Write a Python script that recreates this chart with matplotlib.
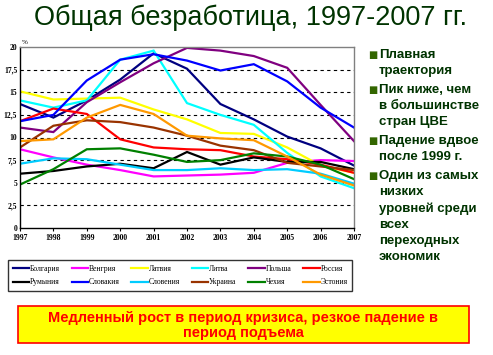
import matplotlib
matplotlib.use("Agg")
import matplotlib.pyplot as plt
from matplotlib.patches import Rectangle
from matplotlib.ticker import FixedLocator

years = [1997, 1998, 1999, 2000, 2001, 2002, 2003, 2004, 2005, 2006, 2007]

countries = ["Болгария", "Венгрия", "Латвия", "Литва", "Польша", "Россия",
             "Румыния", "Словакия", "Словения", "Украина", "Чехия", "Эстония"]

bulgaria = [13.7, 12.2, 14.1, 16.4, 19.3, 17.6, 13.7, 12.0, 10.1, 8.8, 6.9]
hungary = [8.7, 7.8, 7.0, 6.4, 5.7, 5.8, 5.9, 6.1, 7.2, 7.5, 7.4]
latvia = [15.1, 14.2, 14.3, 14.4, 13.1, 12.0, 10.5, 10.4, 8.9, 6.9, 6.1]
lithuania = [14.1, 13.3, 14.1, 18.6, 19.6, 13.8, 12.5, 11.4, 8.3, 5.7, 4.4]
poland = [11.1, 10.6, 13.9, 16.1, 18.2, 19.9, 19.6, 19.0, 17.7, 13.6, 9.6]
russia = [11.8, 13.2, 12.6, 9.8, 8.9, 8.7, 8.6, 7.9, 7.6, 7.0, 6.1]
romania = [6.0, 6.3, 6.8, 7.1, 6.6, 8.4, 7.0, 7.8, 7.3, 7.3, 6.5]
slovakia = [11.8, 12.5, 16.3, 18.6, 19.2, 18.5, 17.4, 18.1, 16.2, 13.3, 11.1]
slovenia = [7.1, 7.7, 7.6, 7.0, 6.4, 6.4, 6.6, 6.4, 6.5, 6.0, 4.9]
ukraine = [8.9, 11.3, 11.9, 11.7, 11.1, 10.2, 9.1, 8.6, 7.2, 6.8, 6.4]
czech = [4.8, 6.5, 8.7, 8.8, 8.1, 7.3, 7.5, 8.25, 7.9, 7.0, 5.4]
estonia = [9.6, 9.8, 12.2, 13.6, 12.6, 10.2, 9.9, 9.7, 7.9, 5.9, 4.7]

series = [bulgaria, hungary, latvia, lithuania, poland, russia,
          romania, slovakia, slovenia, ukraine, czech, estonia]
colors = ["#000080", "#FF00FF", "#FFFF00", "#00FFFF", "#800080", "#FF0000",
          "#000000", "#0000FF", "#00CCFF", "#993300", "#008000", "#FF9900"]

y_ticks = [0, 2.5, 5, 7.5, 10, 12.5, 15, 17.5, 20]
y_labels = ["0", "2,5", "5", "7,5", "10", "12,5", "15", "17,5", "20"]

title = "Общая безработица, 1997-2007 гг."
bullets = [["Плавная", "траектория"],
           ["Пик ниже, чем", "в большинстве", "стран ЦВЕ"],
           ["Падение вдвое", "после 1999 г."],
           ["Один из самых", "низких", "уровней среди", "всех",
            "переходных", "экономик"]]
note = "Медленный рост в период кризиса, резкое падение в\nпериод подъема"

W, H = 493, 355
fig = plt.figure(figsize=(W / 100, H / 100), dpi=100)
fig.patch.set_facecolor("white")

ax = fig.add_axes([20 / W, 1 - 228 / H, 334 / W, 181 / H])
handles = []
for name, vals, c in zip(countries, series, colors):
    h, = ax.plot(years, vals, color=c, lw=1.6, label=name, solid_joinstyle="miter")
    handles.append(h)

ax.set_xlim(1997, 2007)
ax.set_ylim(0, 20)
ax.yaxis.set_major_locator(FixedLocator(y_ticks))
ax.set_yticklabels(y_labels)
ax.set_xticks(years)
ax.set_xticklabels([str(y) for y in years])
for yv in y_ticks[1:-1]:
    ax.axhline(yv, color="black", lw=0.8, ls=(0, (3, 3)), zorder=0)
for s in ["top", "right"]:
    ax.spines[s].set_color("#808080")
    ax.spines[s].set_linewidth(1.0)
for s in ["left", "bottom"]:
    ax.spines[s].set_color("black")
    ax.spines[s].set_linewidth(1.0)
ax.tick_params(axis="both", labelsize=5.5, length=2, width=0.8, pad=2)
ax.tick_params(axis="y", length=0)
for lab in ax.get_xticklabels() + ax.get_yticklabels():
    lab.set_family("Liberation Serif")
    lab.set_fontweight("bold")
fig.text(22 / W, 1 - 43 / H, "%", fontsize=5, family="Liberation Serif",
         ha="left", va="center")

fig.text(251 / W, 1 - 18 / H, title, fontsize=19.5, color="#003300",
         family="Liberation Sans", ha="center", va="center")

# bullets
y = 55
for item in bullets:
    for i, line in enumerate(item):
        if i == 0:
            fig.text(368 / W, 1 - y / H, "■", fontsize=7, color="#336600",
                     family="DejaVu Sans", ha="left", va="center")
        fig.text(379 / W, 1 - y / H, line, fontsize=9.5, color="#003300",
                 family="Liberation Sans", fontweight="bold",
                 ha="left", va="center")
        y += 16.3
    y += 2.2

# legend (row-wise ordering in a 6-column grid)
order = []
for col in range(6):
    order += [col, col + 6]
leg = fig.legend([handles[i] for i in order], [countries[i] for i in order],
                 ncol=6, loc="lower left",
                 bbox_to_anchor=(8 / W, 1 - 291 / H, 344 / W, 32 / H),
                 mode="expand", frameon=True, fancybox=False,
                 prop={"family": "Liberation Serif", "size": 5.5},
                 handlelength=2.2, handletextpad=0.1, columnspacing=0.5,
                 borderpad=0.6, labelspacing=0.7, borderaxespad=0)
leg.get_frame().set_edgecolor("black")
leg.get_frame().set_linewidth(1.0)

# yellow note box
fig.patches.append(Rectangle((18 / W, 1 - 343 / H), 451 / W, 37 / H,
                             transform=fig.transFigure, facecolor="#FFFF00",
                             edgecolor="#FF0000", lw=1.2))
fig.text(243.5 / W, 1 - 325.5 / H, note, fontsize=10.5, color="#FF0000",
         family="Liberation Sans", fontweight="bold", ha="center", va="center",
         linespacing=1.15)

fig.savefig("out.png", dpi=100)
